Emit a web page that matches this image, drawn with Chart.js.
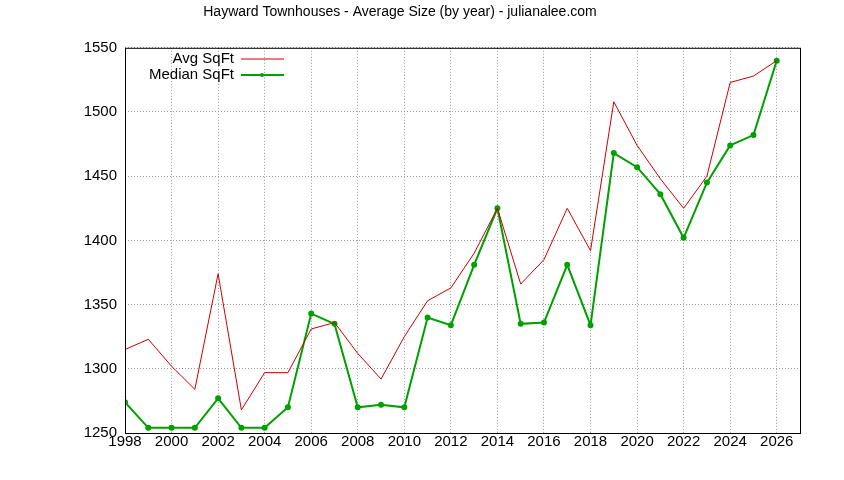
<!DOCTYPE html><html><head><script src="https://cdn.jsdelivr.net/npm/chart.js@4"></script>
<style>body{margin:0;background:#fff}#w{width:844px;height:480px}</style></head><body><div id="w"><canvas id="c"></canvas></div>
<script>
const years=[1998,1999,2000,2001,2002,2003,2004,2005,2006,2007,2008,2009,2010,2011,2012,2013,2014,2015,2016,2017,2018,2019,2020,2021,2022,2023,2024,2025,2026];
const avgSqft=[1315,1323,1302,1284,1374,1268,1297,1297,1331,1336,1312,1292,1325,1353,1363,1390,1425,1366,1385,1425,1392,1508,1474,1448,1425,1450,1523,1528,1540];
const medianSqft=[1274,1254,1254,1254,1277,1254,1254,1270,1343,1335,1270,1272,1270,1340,1334,1381,1425,1335,1336,1381,1334,1468,1457,1436,1402,1445,1474,1482,1540];
const F='"Liberation Sans", Arial, sans-serif';
const legendPlugin={id:'lg',afterDraw(ch){const c=ch.ctx;c.save();c.font='15px '+F;c.textAlign='right';c.textBaseline='middle';
const items=[[ch.data.datasets[0],'#cc0000',1,false],[ch.data.datasets[1],'#00a000',2,true]];
items.forEach((it,i)=>{const y=59+i*16;c.fillStyle='#000';c.fillText(it[0].label,234,y);c.strokeStyle=it[1];c.lineWidth=it[2];c.beginPath();c.moveTo(241,y);c.lineTo(284,y);c.stroke();if(it[3]){c.fillStyle=it[1];c.beginPath();c.arc(262,y,2,0,7);c.fill();}});c.restore();}};
const border={id:'bd',afterDraw(ch){const a=ch.chartArea,c=ch.ctx;c.save();c.strokeStyle='#000';c.lineWidth=1;c.strokeRect(a.left+.5,a.top+.5,a.right-a.left,a.bottom-a.top);c.restore();}};
new Chart(document.getElementById('c'),{type:'line',data:{datasets:[
{label:'Avg SqFt',data:years.map((y,i)=>({x:y,y:avgSqft[i]})),borderColor:'#cc0000',borderWidth:1,pointRadius:0,tension:0},
{label:'Median SqFt',data:years.map((y,i)=>({x:y,y:medianSqft[i]})),borderColor:'#00a000',backgroundColor:'#00a000',borderWidth:2,pointRadius:2,tension:0}]},
options:{animation:false,responsive:true,maintainAspectRatio:false,layout:{padding:{top:0,right:44,bottom:29,left:0}},
plugins:{legend:{display:false},tooltip:{enabled:false},title:{display:true,text:'Hayward Townhouses - Average Size (by year) - julianalee.com',color:'#000',font:{family:F,size:14,weight:'normal'},padding:{top:4,bottom:27}}},
scales:{x:{type:'linear',min:1998,max:2027,afterBuildTicks(s){s.ticks=[];for(let v=1998;v<=2026;v+=2)s.ticks.push({value:v});},
ticks:{color:'#000',font:{family:F,size:15},maxRotation:0,padding:0,callback:v=>String(v)},grid:{color:'#999',drawTicks:false},border:{display:false,dash:[1,2]}},
y:{min:1250,max:1550,afterFit(s){s.width=125;},ticks:{stepSize:50,color:'#000',font:{family:F,size:15},padding:8,callback:v=>String(v)},grid:{color:'#999',drawTicks:false},border:{display:false,dash:[1,2]}}}},
plugins:[legendPlugin,border]});
</script></body></html>
